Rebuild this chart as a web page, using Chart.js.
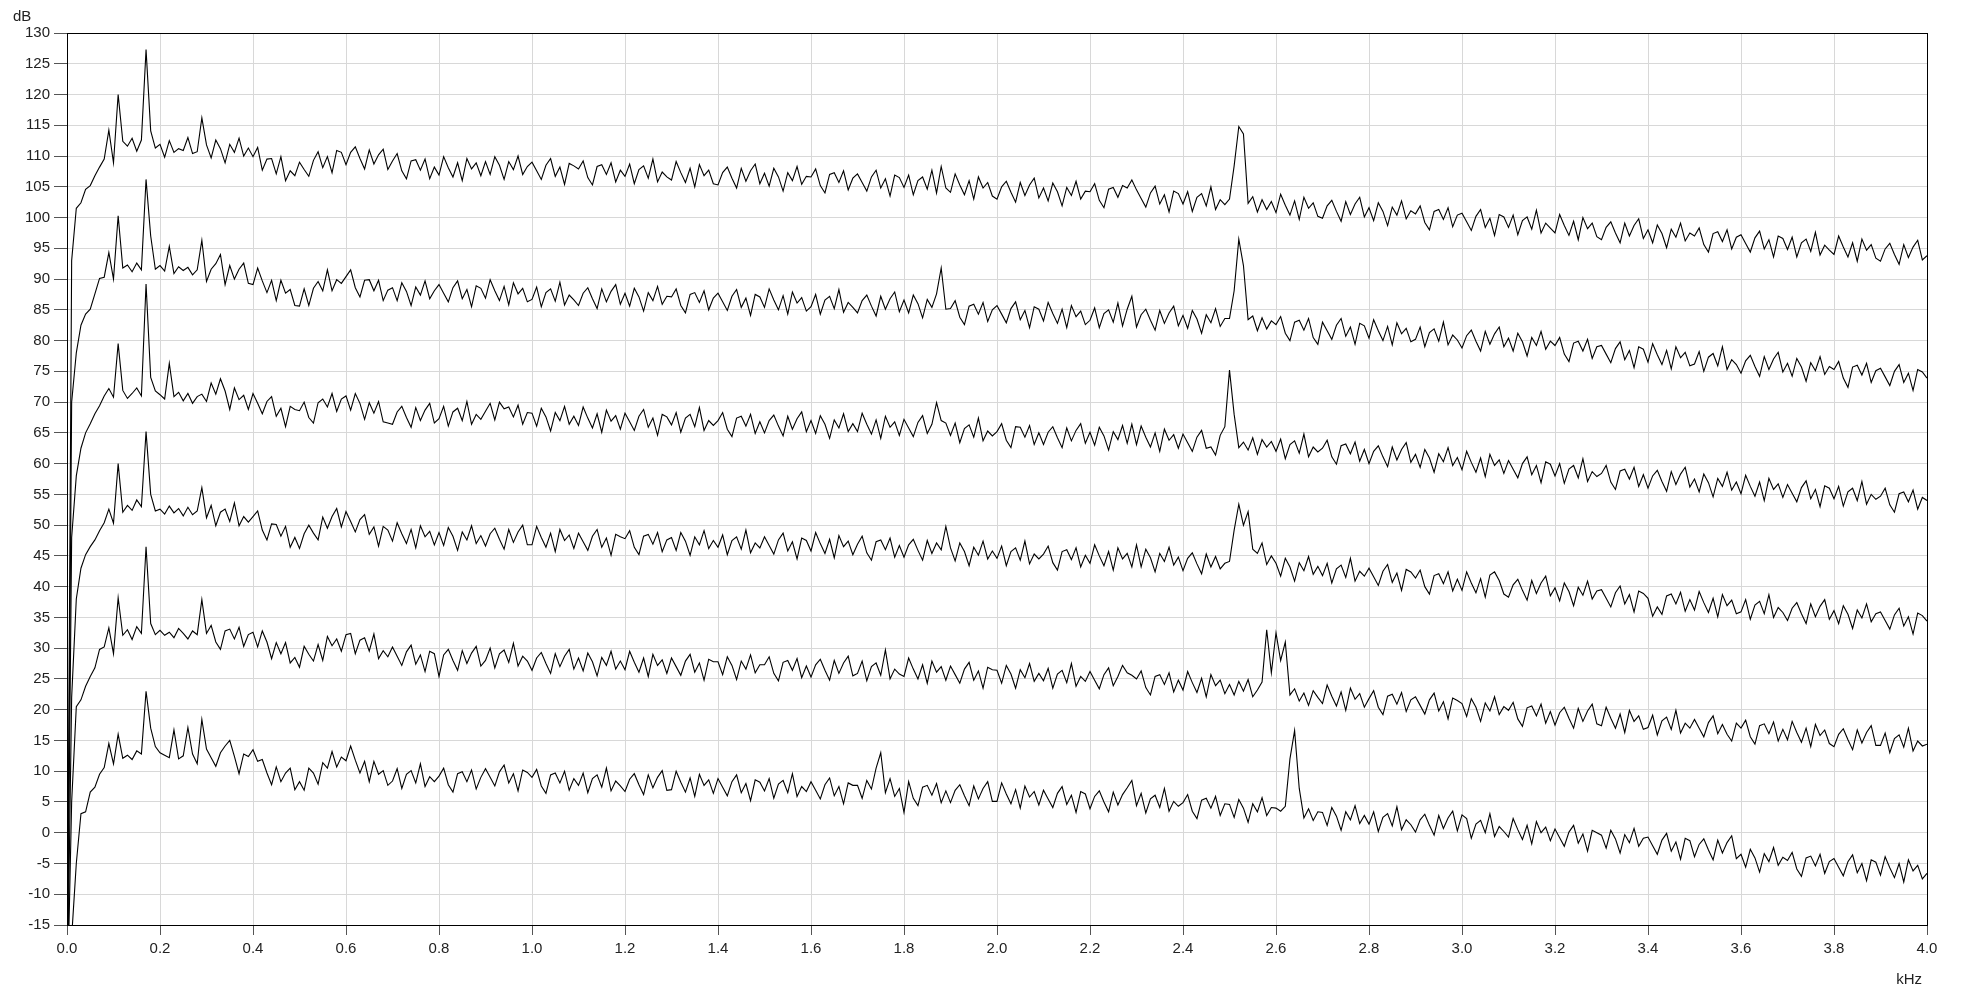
<!DOCTYPE html>
<html lang="en">
<head>
    <meta charset="UTF-8">
    <title>Spectrum Chart</title>
    <script src="https://cdn.jsdelivr.net/npm/chart.js@4.4.0/dist/chart.umd.min.js"></script>
    <style>
        body {
            margin: 0;
            padding: 0;
            background-color: #ffffff;
            overflow: hidden;
        }
        canvas {
            display: block;
        }
    </style>
</head>
<body>
    <canvas id="spectrumChart" width="1961" height="991"></canvas>

    <script>
        // Frequency bins (kHz), 0.01 kHz apart
        const freqKHz = Array.from({ length: 401 }, (_, i) => +(i * 0.01).toFixed(2));

        const xTicks = { min: 0, max: 4, step: 0.2 };
        const yTicks = { min: -15, max: 130, step: 5 };

        // Spectrum levels in dB, one row per 0.1 kHz
        const spectrum1 = [
            -30, 93.0, 101.5, 102.4, 104.6, 105.2, 106.8, 108.2, 109.5, 114.2,
            108.9, 120.0, 112.4, 111.6, 112.9, 110.8, 112.6, 127.3, 114.1, 111.3,
            111.9, 109.8, 112.5, 110.6, 111.2, 110.9, 113.0, 110.4, 110.7, 116.2,
            111.8, 109.7, 112.6, 111.2, 108.9, 111.9, 110.6, 112.9, 110.0, 111.3,
            109.9, 111.4, 107.7, 109.5, 109.6, 107.1, 109.9, 106.0, 107.6, 106.8,
            109.0, 107.8, 106.7, 109.3, 110.7, 108.1, 109.9, 107.3, 110.9, 110.6,
            108.6, 110.6, 111.5, 109.6, 107.9, 111.0, 108.7, 110.2, 111.1, 107.8,
            109.2, 110.4, 107.6, 106.3, 109.2, 109.4, 107.7, 109.5, 106.3, 108.2,
            106.9, 109.9, 108.1, 106.6, 108.9, 106.0, 109.6, 107.9, 108.9, 106.8,
            109.1, 107.0, 109.9, 108.5, 106.2, 109.1, 107.8, 110.0, 107.0, 108.3,
            109.0, 107.6, 106.2, 108.5, 109.6, 106.7, 108.2, 105.4, 108.8, 108.4,
            107.9, 109.2, 106.5, 105.3, 108.3, 108.6, 107.0, 108.9, 105.8, 107.7,
            106.7, 108.7, 105.5, 107.8, 108.4, 106.4, 109.5, 105.8, 107.4, 106.6,
            106.1, 109.1, 107.3, 105.7, 108.0, 105.0, 108.6, 106.8, 107.7, 105.5,
            105.3, 107.3, 108.2, 106.4, 104.8, 108.0, 105.9, 107.6, 108.7, 105.5,
            107.2, 105.1, 108.0, 106.6, 104.3, 107.3, 106.0, 108.3, 105.4, 106.7,
            106.6, 107.9, 105.2, 104.0, 107.0, 107.3, 105.7, 107.6, 104.5, 106.4,
            107.1, 105.7, 104.3, 106.6, 107.7, 104.8, 106.3, 103.5, 106.9, 106.5,
            104.9, 106.9, 103.7, 106.0, 106.6, 104.6, 107.7, 104.0, 108.3, 104.8,
            104.1, 107.1, 105.3, 103.7, 106.0, 103.0, 106.6, 104.8, 105.7, 103.5,
            103.0, 105.0, 105.9, 104.1, 102.5, 105.7, 103.6, 105.3, 106.4, 103.2,
            104.8, 102.7, 105.6, 104.2, 101.9, 104.9, 103.6, 105.9, 103.0, 104.3,
            104.2, 105.5, 102.8, 101.6, 104.6, 104.9, 103.3, 105.2, 104.8, 106.1,
            104.5, 103.1, 101.7, 104.0, 105.1, 102.2, 103.7, 100.9, 104.3, 103.9,
            102.2, 104.2, 101.0, 103.3, 103.9, 101.9, 105.0, 101.3, 102.9, 102.1,
            103.0, 108.4, 114.8, 113.6, 102.3, 103.4, 100.9, 102.9, 101.3, 102.6,
            100.8, 103.8, 102.0, 100.4, 102.7, 99.7, 103.3, 101.5, 102.4, 100.2,
            99.9, 101.9, 102.8, 101.0, 99.4, 102.6, 100.5, 102.2, 103.3, 100.1,
            101.6, 99.5, 102.4, 101.0, 98.7, 101.7, 100.4, 102.7, 99.8, 101.1,
            100.6, 101.9, 99.2, 98.0, 101.0, 101.3, 99.7, 101.6, 98.5, 100.4,
            100.7, 99.3, 97.9, 100.2, 101.3, 98.4, 99.9, 97.1, 100.5, 100.1,
            98.4, 100.4, 97.2, 99.5, 100.1, 98.1, 101.2, 97.5, 99.1, 98.3,
            97.5, 100.5, 98.7, 97.1, 99.4, 96.4, 100.0, 98.2, 99.1, 96.9,
            96.4, 98.4, 99.3, 97.5, 95.9, 99.1, 97.0, 98.7, 99.8, 96.6,
            98.0, 95.9, 98.8, 97.4, 95.1, 98.1, 96.8, 99.1, 96.2, 97.5,
            97.0, 98.3, 95.6, 94.4, 97.4, 97.7, 96.1, 98.0, 94.9, 96.8,
            97.2, 95.8, 94.4, 96.7, 97.8, 94.9, 96.4, 93.6, 97.0, 96.6,
            94.8, 96.8, 93.6, 95.9, 96.5, 94.5, 97.6, 93.9, 95.5, 94.7,
            94.0, 97.0, 95.2, 93.6, 95.9, 92.9, 96.5, 94.7, 95.6, 93.4,
            92.9, 94.9, 95.8, 94.0, 92.4, 95.6, 93.5, 95.2, 96.3, 93.1,
            93.8
        ];

        const spectrum2 = [
            -30, 70.0, 78.0, 82.5, 84.3, 85.1, 87.6, 90.1, 90.3, 94.3,
            90.0, 100.3, 91.8, 92.3, 91.2, 92.6, 91.5, 106.2, 97.0, 91.6,
            92.2, 91.3, 95.3, 90.9, 92.0, 91.4, 91.9, 90.7, 91.5, 96.3,
            89.6, 91.6, 92.5, 94.0, 89.1, 92.2, 90.0, 91.6, 92.6, 89.3,
            89.1, 91.8, 89.7, 87.8, 89.8, 86.5, 89.8, 87.7, 88.3, 85.7,
            85.6, 88.4, 85.7, 88.5, 89.6, 88.1, 91.5, 88.1, 89.9, 89.3,
            90.4, 91.5, 88.6, 87.1, 89.8, 89.9, 88.1, 89.8, 86.5, 88.2,
            88.6, 86.5, 89.4, 88.0, 85.7, 88.7, 87.4, 89.7, 86.8, 88.1,
            89.1, 87.7, 86.3, 88.6, 89.7, 86.8, 88.3, 85.5, 88.9, 88.5,
            86.9, 89.9, 88.1, 86.5, 88.8, 85.8, 89.4, 87.6, 88.5, 86.3,
            86.7, 88.7, 85.5, 87.8, 88.4, 86.4, 89.5, 85.8, 87.4, 86.6,
            85.7, 87.7, 88.6, 86.8, 85.2, 88.4, 86.3, 88.0, 89.1, 85.9,
            87.7, 85.6, 88.5, 87.1, 84.8, 87.8, 86.5, 88.8, 85.9, 87.2,
            87.1, 88.4, 85.7, 84.5, 87.5, 87.8, 86.2, 88.1, 85.0, 86.9,
            87.7, 86.3, 84.9, 87.2, 88.3, 85.4, 86.9, 84.1, 87.5, 87.1,
            85.4, 88.4, 86.6, 85.0, 87.3, 84.3, 87.9, 86.1, 87.0, 84.8,
            85.5, 87.5, 84.3, 86.6, 87.2, 85.2, 88.3, 84.6, 86.2, 85.4,
            84.5, 86.5, 87.4, 85.6, 84.0, 87.2, 85.1, 86.8, 87.9, 84.7,
            86.6, 84.5, 87.4, 86.0, 83.7, 86.7, 85.4, 87.6, 91.8, 85.1,
            85.2, 86.5, 83.8, 82.6, 85.6, 85.9, 84.3, 86.2, 83.1, 85.0,
            85.7, 84.3, 82.9, 85.2, 86.3, 83.4, 84.9, 82.1, 85.5, 85.1,
            83.2, 86.2, 84.4, 82.8, 85.1, 82.1, 85.7, 83.9, 84.8, 82.6,
            83.3, 85.3, 82.1, 84.4, 85.0, 83.0, 86.1, 82.4, 85.1, 87.2,
            82.2, 84.2, 85.1, 83.3, 81.7, 84.9, 82.8, 84.5, 85.6, 82.4,
            84.1, 82.0, 84.9, 83.5, 81.2, 84.2, 82.9, 85.2, 82.3, 83.6,
            83.6, 88.1, 96.5, 92.2, 83.4, 84.0, 81.6, 83.7, 81.9, 83.2,
            82.6, 83.9, 81.2, 80.0, 83.0, 83.3, 81.7, 83.6, 80.5, 79.4,
            83.0, 81.6, 80.2, 82.5, 83.6, 80.7, 82.2, 79.4, 82.8, 82.4,
            80.4, 83.4, 81.6, 80.0, 82.3, 79.3, 82.9, 81.1, 82.0, 79.8,
            80.2, 82.2, 79.0, 81.3, 81.9, 79.9, 83.0, 79.3, 80.9, 80.1,
            78.8, 80.8, 81.7, 79.9, 78.3, 81.5, 79.4, 81.1, 82.2, 79.0,
            80.4, 78.3, 81.2, 79.8, 77.5, 80.5, 79.2, 81.5, 78.6, 79.9,
            79.2, 80.5, 77.8, 76.6, 79.6, 79.9, 78.3, 80.2, 77.1, 79.0,
            79.2, 77.8, 76.4, 78.7, 79.8, 76.9, 78.4, 75.6, 79.0, 78.6,
            76.5, 79.5, 77.7, 76.1, 78.4, 75.4, 79.0, 77.2, 78.1, 75.9,
            76.2, 78.2, 75.0, 77.3, 77.9, 75.9, 79.0, 75.3, 76.9, 76.1,
            74.7, 76.7, 77.6, 75.8, 74.2, 77.4, 75.3, 77.0, 78.1, 74.9,
            76.3, 74.2, 77.1, 75.7, 73.4, 76.4, 75.1, 77.4, 74.5, 75.8,
            75.3, 76.6, 73.9, 72.4, 75.7, 76.0, 74.4, 76.3, 73.2, 75.1,
            75.5, 74.1, 72.7, 75.0, 76.1, 73.2, 74.7, 71.9, 75.3, 74.9,
            73.9
        ];

        const spectrum3 = [
            -30, 48.0, 58.0, 62.5, 65.0, 66.5, 68.1, 69.4, 71.0, 72.2,
            70.8, 79.5, 71.9, 70.6, 71.4, 72.3, 71.0, 89.2, 74.0, 71.8,
            71.2, 70.5, 76.3, 70.9, 71.6, 70.2, 71.4, 69.8, 70.9, 71.3,
            70.1, 73.1, 71.3, 73.8, 71.8, 68.8, 72.3, 70.4, 71.1, 68.8,
            71.4, 69.8, 68.1, 70.1, 70.9, 67.7, 69.0, 66.0, 69.3, 68.8,
            68.6, 70.0, 67.5, 66.6, 69.9, 70.5, 69.2, 71.4, 68.5, 70.5,
            71.0, 68.7, 71.4, 69.8, 67.2, 69.9, 68.2, 70.1, 66.8, 66.6,
            66.4, 68.4, 69.3, 67.5, 65.9, 69.1, 67.0, 68.7, 69.8, 66.6,
            67.3, 69.3, 66.1, 68.4, 69.0, 67.0, 70.1, 66.4, 68.0, 67.2,
            68.5, 69.8, 67.1, 70.0, 68.9, 69.2, 67.6, 69.5, 66.4, 68.3,
            68.2, 66.1, 69.0, 67.6, 65.3, 68.3, 67.0, 69.3, 66.4, 67.7,
            66.2, 69.2, 67.4, 65.8, 68.1, 65.1, 68.7, 66.9, 67.8, 65.6,
            68.2, 66.8, 65.4, 67.7, 68.8, 65.9, 67.4, 64.6, 68.0, 67.6,
            66.3, 68.3, 65.1, 67.4, 68.0, 66.0, 69.1, 65.4, 67.0, 66.2,
            67.0, 68.3, 65.6, 64.4, 67.4, 67.7, 66.1, 68.0, 64.9, 66.8,
            65.0, 67.0, 67.9, 66.1, 64.5, 67.7, 65.6, 67.3, 68.4, 65.2,
            67.0, 64.9, 67.8, 66.4, 64.1, 67.1, 65.8, 68.1, 65.2, 66.5,
            65.2, 68.2, 66.4, 64.8, 67.1, 64.1, 67.7, 65.9, 66.8, 64.6,
            67.2, 65.8, 64.4, 66.7, 67.8, 64.9, 66.4, 69.9, 67.0, 66.6,
            64.6, 66.6, 63.4, 65.7, 66.3, 64.3, 67.4, 63.7, 65.3, 64.5,
            65.2, 66.5, 63.8, 62.6, 66.0, 65.9, 64.3, 66.2, 63.1, 65.0,
            63.1, 65.1, 66.0, 64.2, 62.6, 65.8, 63.7, 65.4, 66.5, 63.3,
            65.1, 63.0, 65.9, 64.5, 62.2, 65.2, 63.9, 66.2, 63.3, 66.4,
            63.1, 66.1, 64.3, 62.7, 65.0, 62.0, 65.6, 63.8, 64.7, 62.5,
            64.8, 63.4, 62.0, 64.3, 65.4, 62.5, 62.7, 61.4, 64.6, 66.0,
            75.2, 68.0, 62.6, 63.5, 62.2, 64.2, 61.5, 63.9, 62.7, 63.6,
            62.0, 64.0, 60.8, 63.1, 63.7, 61.7, 64.8, 61.1, 62.7, 61.9,
            62.5, 63.8, 61.1, 59.9, 62.9, 63.2, 61.6, 63.5, 60.4, 62.3,
            60.0, 62.0, 62.9, 61.1, 59.5, 62.7, 60.6, 62.3, 63.4, 60.2,
            61.5, 59.4, 62.3, 60.9, 58.6, 61.6, 60.3, 62.6, 59.7, 61.0,
            59.0, 62.0, 60.2, 58.6, 60.9, 57.9, 61.5, 59.7, 60.6, 58.4,
            60.5, 59.1, 57.7, 60.0, 61.1, 58.2, 59.7, 56.9, 60.3, 59.9,
            58.0, 60.0, 56.8, 59.1, 59.7, 57.7, 60.8, 57.1, 58.7, 57.9,
            58.4, 59.7, 57.0, 55.8, 58.8, 59.1, 57.5, 59.4, 56.3, 58.2,
            56.0, 58.0, 58.9, 57.1, 55.5, 58.7, 56.6, 58.3, 59.4, 56.2,
            57.5, 55.4, 58.3, 56.9, 54.6, 57.6, 56.3, 58.6, 55.7, 57.0,
            55.1, 58.1, 56.3, 54.7, 57.0, 54.0, 57.6, 55.8, 56.7, 54.5,
            56.6, 55.2, 53.8, 56.1, 57.2, 54.3, 55.8, 53.0, 56.4, 56.0,
            54.3, 56.3, 53.1, 55.4, 56.0, 54.0, 57.1, 53.4, 55.0, 54.2,
            54.7, 56.0, 53.3, 52.1, 55.1, 55.4, 53.8, 55.7, 52.6, 54.5,
            54.0
        ];

        const spectrum4 = [
            -30, 22.0, 38.0, 43.0, 45.2, 46.5, 47.6, 49.1, 50.4, 52.6,
            50.3, 60.0, 52.1, 53.2, 52.4, 54.1, 53.0, 65.2, 55.0, 52.3,
            52.6, 51.8, 53.1, 52.0, 52.7, 51.5, 52.9, 51.7, 52.3, 56.1,
            51.2, 53.2, 49.9, 52.1, 52.6, 50.6, 53.6, 49.9, 51.4, 50.5,
            51.4, 52.3, 49.2, 47.6, 50.2, 50.1, 48.2, 49.8, 46.4, 48.0,
            46.2, 48.6, 50.0, 48.7, 47.6, 51.3, 49.5, 51.4, 52.7, 49.7,
            52.2, 50.6, 48.9, 50.9, 51.7, 48.5, 49.7, 46.6, 49.8, 49.2,
            47.4, 50.4, 48.6, 47.0, 49.3, 46.3, 49.9, 48.1, 49.0, 46.8,
            48.8, 46.7, 49.6, 48.2, 45.9, 48.9, 47.6, 49.9, 47.0, 48.3,
            46.6, 48.6, 49.5, 47.7, 46.1, 49.3, 47.2, 48.9, 50.0, 46.8,
            46.8, 49.8, 48.0, 46.4, 48.7, 45.7, 49.3, 47.5, 48.4, 46.2,
            48.7, 47.3, 45.9, 48.2, 49.3, 46.4, 47.9, 45.1, 48.5, 48.1,
            47.8, 49.1, 46.4, 45.2, 48.2, 48.5, 46.9, 48.8, 45.7, 47.6,
            48.0, 45.9, 48.8, 47.4, 45.1, 48.1, 46.8, 49.1, 46.2, 47.5,
            46.4, 48.4, 45.2, 47.5, 48.1, 46.1, 49.2, 45.5, 47.1, 46.3,
            48.1, 46.7, 45.3, 47.6, 48.7, 45.8, 47.3, 44.5, 47.9, 47.5,
            45.8, 48.8, 47.0, 45.4, 47.7, 44.7, 48.3, 46.5, 47.4, 45.2,
            46.9, 48.2, 45.5, 44.3, 47.3, 47.6, 46.0, 47.9, 44.8, 46.7,
            44.8, 46.8, 47.7, 45.9, 44.3, 47.5, 45.4, 47.1, 46.0, 49.8,
            46.3, 44.2, 47.1, 45.7, 43.4, 46.4, 45.1, 47.4, 44.5, 45.8,
            44.6, 46.6, 43.4, 45.7, 46.3, 44.3, 47.4, 43.7, 45.3, 44.5,
            45.3, 46.6, 43.9, 42.7, 45.7, 46.0, 44.4, 46.3, 43.2, 45.1,
            43.8, 46.8, 45.0, 43.4, 45.7, 42.7, 46.3, 44.5, 45.4, 43.2,
            46.8, 43.2, 46.1, 44.7, 42.4, 45.4, 44.1, 46.4, 43.5, 44.8,
            42.6, 44.6, 45.5, 43.7, 42.1, 45.3, 43.2, 44.9, 42.9, 43.8,
            44.1, 49.2, 53.4, 50.0, 52.2, 46.1, 45.4, 47.1, 43.6, 45.0,
            43.8, 41.7, 44.6, 43.2, 40.9, 43.9, 42.6, 44.9, 42.0, 43.3,
            41.8, 43.8, 40.6, 42.9, 43.5, 41.5, 44.6, 40.9, 42.5, 41.7,
            43.0, 41.6, 40.2, 42.5, 43.6, 40.7, 42.2, 39.4, 42.8, 42.4,
            41.4, 42.7, 40.0, 38.8, 41.8, 42.1, 40.5, 42.4, 39.3, 41.2,
            39.4, 42.4, 40.6, 39.0, 41.3, 38.3, 41.9, 42.4, 41.0, 38.8,
            38.3, 40.3, 41.2, 39.4, 37.8, 41.0, 38.9, 40.6, 41.7, 38.5,
            39.8, 37.7, 40.6, 39.2, 36.9, 39.9, 38.6, 40.9, 38.0, 39.3,
            39.5, 38.1, 36.7, 39.0, 40.1, 37.2, 38.7, 35.9, 39.3, 38.9,
            38.1, 35.2, 36.7, 35.5, 38.5, 38.8, 37.2, 39.1, 36.0, 37.9,
            36.2, 39.2, 37.4, 35.8, 38.1, 35.1, 38.7, 36.9, 37.8, 35.6,
            35.9, 37.9, 34.7, 37.0, 37.6, 35.6, 38.7, 35.0, 36.6, 35.8,
            34.5, 36.5, 37.4, 35.6, 34.0, 37.2, 35.1, 36.8, 37.9, 34.7,
            36.1, 34.0, 36.9, 35.5, 33.2, 36.2, 34.9, 37.2, 34.3, 35.6,
            35.9, 34.5, 33.1, 35.4, 36.5, 33.6, 35.1, 32.3, 35.7, 35.3,
            34.4
        ];

        const spectrum5 = [
            -30, 5.0, 20.5, 21.6, 23.8, 25.4, 26.8, 29.8, 30.2, 33.3,
            29.1, 38.2, 32.1, 33.0, 31.4, 33.5, 32.4, 46.5, 34.0, 32.2,
            32.9, 32.1, 32.6, 31.7, 33.2, 32.4, 31.5, 32.8, 32.2, 37.9,
            32.4, 33.7, 31.0, 29.8, 32.8, 33.1, 31.5, 33.4, 30.3, 32.2,
            32.6, 30.2, 32.8, 31.0, 28.3, 30.9, 29.1, 30.9, 27.6, 28.5,
            26.9, 30.3, 29.0, 27.9, 30.6, 28.0, 31.9, 30.4, 31.5, 29.5,
            32.2, 32.4, 29.1, 31.3, 31.7, 29.5, 32.3, 28.3, 29.6, 28.6,
            30.2, 28.7, 27.2, 29.4, 30.5, 27.4, 28.9, 26.2, 29.5, 29.1,
            25.4, 28.9, 29.8, 28.0, 26.4, 29.6, 27.5, 29.2, 30.3, 27.1,
            28.0, 30.0, 26.8, 29.1, 29.7, 27.7, 30.8, 27.1, 28.7, 27.9,
            26.4, 28.4, 29.3, 27.5, 25.9, 29.1, 27.0, 28.7, 29.8, 26.6,
            28.4, 26.3, 29.2, 27.8, 25.5, 28.5, 27.2, 29.5, 26.6, 27.9,
            26.5, 29.5, 27.7, 26.1, 28.4, 25.4, 29.0, 27.2, 28.1, 25.9,
            28.4, 27.0, 25.6, 27.9, 29.0, 26.1, 27.6, 24.8, 28.2, 27.8,
            27.8, 25.7, 28.6, 27.2, 24.9, 27.9, 26.6, 28.9, 26.0, 27.3,
            27.3, 28.6, 25.9, 24.7, 27.7, 28.0, 26.4, 28.3, 25.2, 27.1,
            25.3, 27.3, 28.2, 26.4, 24.8, 28.0, 25.9, 27.6, 28.7, 25.5,
            25.9, 27.9, 24.7, 27.0, 27.6, 25.6, 29.7, 25.0, 26.6, 25.8,
            25.4, 28.4, 26.6, 25.0, 27.3, 24.3, 27.9, 26.1, 27.0, 24.8,
            27.1, 25.7, 24.3, 26.6, 27.7, 24.8, 26.3, 23.5, 26.9, 26.5,
            26.4, 24.3, 27.2, 25.8, 23.5, 26.5, 25.2, 27.5, 24.6, 25.9,
            24.7, 26.7, 23.5, 25.8, 26.4, 24.4, 27.5, 23.8, 25.4, 24.6,
            26.2, 24.8, 23.4, 25.7, 26.8, 23.9, 25.4, 27.2, 26.0, 25.6,
            25.0, 26.3, 23.6, 22.4, 25.4, 25.7, 24.1, 26.0, 22.9, 24.8,
            23.2, 26.2, 24.4, 22.8, 25.1, 22.1, 25.7, 23.9, 24.8, 22.6,
            24.1, 22.4, 24.6, 23.0, 24.9, 22.1, 23.2, 24.5, 33.0, 26.0,
            32.5, 28.0, 31.0, 22.4, 23.4, 21.4, 22.7, 20.7, 23.1, 22.0,
            21.0, 24.0, 22.2, 20.6, 22.9, 19.9, 23.5, 21.7, 22.6, 20.4,
            21.8, 23.1, 20.4, 19.2, 22.2, 22.5, 20.9, 22.8, 19.7, 21.6,
            22.1, 20.7, 19.3, 21.6, 22.7, 19.8, 21.3, 18.5, 21.9, 21.5,
            21.0, 18.9, 21.8, 20.4, 18.1, 21.1, 19.8, 22.1, 19.2, 20.5,
            19.9, 21.2, 18.5, 17.3, 20.3, 20.6, 19.0, 20.9, 17.8, 19.7,
            17.5, 19.5, 20.4, 18.6, 17.0, 20.2, 18.1, 19.8, 20.9, 17.7,
            17.4, 20.4, 18.6, 17.0, 19.3, 16.3, 19.9, 18.1, 19.0, 16.8,
            17.1, 19.1, 15.9, 18.2, 18.8, 16.8, 19.9, 16.2, 17.8, 17.0,
            18.4, 17.0, 15.6, 17.9, 19.0, 16.1, 17.6, 16.0, 14.9, 17.8,
            17.0, 18.3, 15.6, 14.4, 17.4, 17.7, 16.1, 18.0, 14.9, 16.8,
            15.1, 18.1, 16.3, 14.7, 17.0, 14.0, 17.6, 15.8, 16.7, 14.5,
            14.0, 16.0, 16.9, 15.1, 13.5, 16.7, 14.6, 16.3, 17.4, 14.2,
            14.2, 16.2, 13.0, 15.3, 15.9, 13.9, 17.0, 13.3, 14.9, 14.1,
            14.4
        ];

        const spectrum6 = [
            -30, -17.0, -5.0, 3.1, 3.4, 6.6, 7.4, 9.5, 10.6, 14.5,
            11.2, 16.0, 12.1, 12.6, 11.9, 13.3, 12.8, 23.0, 17.0, 14.0,
            13.0, 12.6, 12.2, 16.7, 12.0, 12.5, 17.1, 12.8, 11.2, 18.4,
            13.6, 12.2, 10.8, 13.0, 14.1, 15.0, 12.4, 9.6, 12.8, 12.4,
            13.5, 11.6, 11.9, 9.7, 7.8, 10.7, 8.3, 9.7, 10.5, 7.0,
            8.3, 6.9, 10.5, 9.7, 7.9, 11.4, 10.5, 13.2, 10.7, 12.3,
            11.7, 14.1, 11.8, 9.7, 11.6, 8.3, 11.6, 9.5, 10.1, 7.7,
            8.4, 10.4, 7.2, 9.5, 10.1, 8.1, 11.2, 7.5, 9.1, 8.3,
            9.2, 10.5, 7.8, 6.6, 9.6, 9.9, 8.3, 10.2, 7.1, 9.0,
            10.4, 9.0, 7.6, 9.9, 11.0, 8.1, 9.6, 6.8, 10.2, 9.8,
            9.0, 10.3, 7.6, 6.4, 9.4, 9.7, 8.1, 10.0, 6.9, 8.8,
            7.7, 9.7, 6.5, 8.8, 9.4, 7.4, 10.5, 6.8, 8.4, 7.6,
            6.7, 8.7, 9.6, 7.8, 6.2, 9.4, 7.3, 9.0, 10.1, 6.9,
            7.0, 10.0, 8.2, 6.6, 8.9, 5.9, 9.5, 7.7, 8.6, 6.4,
            8.8, 7.4, 6.0, 8.3, 9.4, 6.5, 8.0, 5.2, 8.6, 8.2,
            6.8, 8.8, 5.6, 7.9, 8.5, 6.5, 9.6, 5.9, 7.5, 6.7,
            8.3, 6.9, 5.5, 7.8, 8.9, 6.0, 7.5, 4.7, 8.1, 7.7,
            7.7, 5.6, 8.5, 7.1, 10.5, 13.0, 6.5, 8.8, 5.9, 7.2,
            3.3, 8.3, 5.6, 4.4, 7.4, 7.7, 6.1, 8.0, 4.9, 6.8,
            4.9, 6.9, 7.8, 6.0, 4.4, 7.6, 5.5, 7.2, 8.3, 5.1,
            5.1, 8.1, 6.3, 4.7, 7.0, 4.0, 7.6, 5.8, 6.7, 4.5,
            6.9, 5.5, 4.1, 6.4, 7.5, 4.6, 6.1, 3.3, 6.7, 6.3,
            3.9, 5.9, 6.8, 5.0, 3.4, 6.6, 4.5, 6.2, 7.3, 8.5,
            4.4, 6.4, 3.2, 5.5, 6.1, 4.1, 7.2, 3.5, 5.1, 4.3,
            4.9, 6.2, 3.5, 2.3, 5.3, 5.6, 4.0, 5.9, 2.8, 4.7,
            4.6, 2.5, 5.4, 4.0, 1.7, 4.7, 3.4, 5.7, 2.8, 4.1,
            4.0, 3.5, 4.3, 12.0, 16.6, 7.2, 2.4, 3.9, 2.0, 3.4,
            3.3, 1.2, 4.1, 2.7, 0.4, 3.4, 2.1, 4.4, 1.5, 2.8,
            1.4, 3.4, 0.2, 2.5, 3.1, 1.1, 4.2, 0.5, 2.1, 1.3,
            0.1, 2.1, 3.0, 1.2, -0.4, 2.8, 0.7, 2.4, 3.5, 0.3,
            2.9, 2.3, -0.9, 1.4, 2.0, 0.0, 3.1, -0.6, 1.0, 0.2,
            -0.7, 2.3, 0.5, -1.1, 1.2, -1.8, 1.8, 0.0, 0.9, -1.3,
            0.6, -0.8, -2.2, 0.1, 1.2, -1.7, -0.2, -3.0, 0.4, 0.0,
            -0.4, -2.5, 0.4, -1.0, -3.3, -0.3, -1.6, 0.7, -2.2, -0.9,
            -0.7, -2.1, -3.5, -1.2, -0.1, -3.0, -1.5, -4.3, -0.9, -1.3,
            -3.9, -1.9, -1.0, -2.8, -4.4, -1.2, -3.3, -1.6, -0.5, -4.2,
            -3.5, -5.6, -2.7, -4.1, -6.4, -3.4, -4.7, -2.4, -5.3, -4.0,
            -4.5, -3.2, -5.9, -7.1, -4.1, -3.8, -5.4, -3.5, -6.6, -4.7,
            -4.2, -5.6, -7.0, -4.7, -3.6, -6.5, -5.0, -7.8, -4.4, -4.8,
            -6.9, -3.9, -5.7, -7.3, -5.0, -8.0, -4.4, -6.2, -5.3, -7.5,
            -6.6
        ];

        const allSpectra = [spectrum1, spectrum2, spectrum3, spectrum4, spectrum5, spectrum6];
        allSpectra.forEach((s, i) => {
            if (s.length !== freqKHz.length) console.error('spectrum' + (i + 1) + ' has ' + s.length + ' values');
        });

        const FONT = '"Liberation Sans", Arial, Helvetica, sans-serif';

        // Plot box and unit labels
        const framePlugin = {
            id: 'frame',
            afterDraw(chart) {
                const { ctx, chartArea } = chart;
                ctx.save();
                ctx.strokeStyle = '#000000';
                ctx.lineWidth = 1;
                ctx.strokeRect(chartArea.left + 0.5, chartArea.top + 0.5,
                    chartArea.right - chartArea.left, chartArea.bottom - chartArea.top);
                ctx.fillStyle = '#222222';
                ctx.font = '15px ' + FONT;
                ctx.textBaseline = 'middle';
                ctx.textAlign = 'left';
                ctx.fillText('dB', 13, 17);
                ctx.textAlign = 'right';
                ctx.fillText('kHz', 1922, 980);
                ctx.restore();
            }
        };

        const ctx = document.getElementById('spectrumChart').getContext('2d');

        const spectrumChart = new Chart(ctx, {
            type: 'line',
            data: {
                datasets: allSpectra.map((s, i) => ({
                    label: 'Spectrum ' + (i + 1),
                    data: s.map((v, j) => ({ x: freqKHz[j], y: v })),
                    borderColor: '#000000',
                    borderWidth: 1.1,
                    pointRadius: 0,
                    tension: 0,
                    fill: false
                }))
            },
            options: {
                responsive: false,
                animation: false,
                events: [],
                layout: { padding: { left: 0, top: 33, right: 34, bottom: 0 } },
                plugins: {
                    legend: { display: false },
                    tooltip: { enabled: false }
                },
                scales: {
                    x: {
                        type: 'linear',
                        min: xTicks.min,
                        max: xTicks.max,
                        afterFit: s => { s.height = 66; },
                        border: { display: false },
                        grid: { color: '#d8d8d8', lineWidth: 1, tickLength: 10, tickColor: '#555555' },
                        ticks: {
                            stepSize: xTicks.step,
                            autoSkip: false,
                            maxRotation: 0,
                            padding: 5,
                            color: '#222222',
                            font: { family: FONT, size: 15 },
                            callback: v => v.toFixed(1)
                        }
                    },
                    y: {
                        min: yTicks.min,
                        max: yTicks.max,
                        afterFit: s => { s.width = 67; },
                        border: { display: false },
                        grid: { color: '#d8d8d8', lineWidth: 1, tickLength: 13, tickColor: '#555555' },
                        ticks: {
                            stepSize: yTicks.step,
                            autoSkip: false,
                            padding: 4,
                            color: '#222222',
                            font: { family: FONT, size: 15 }
                        }
                    }
                }
            },
            plugins: [framePlugin]
        });
    </script>
</body>
</html>
